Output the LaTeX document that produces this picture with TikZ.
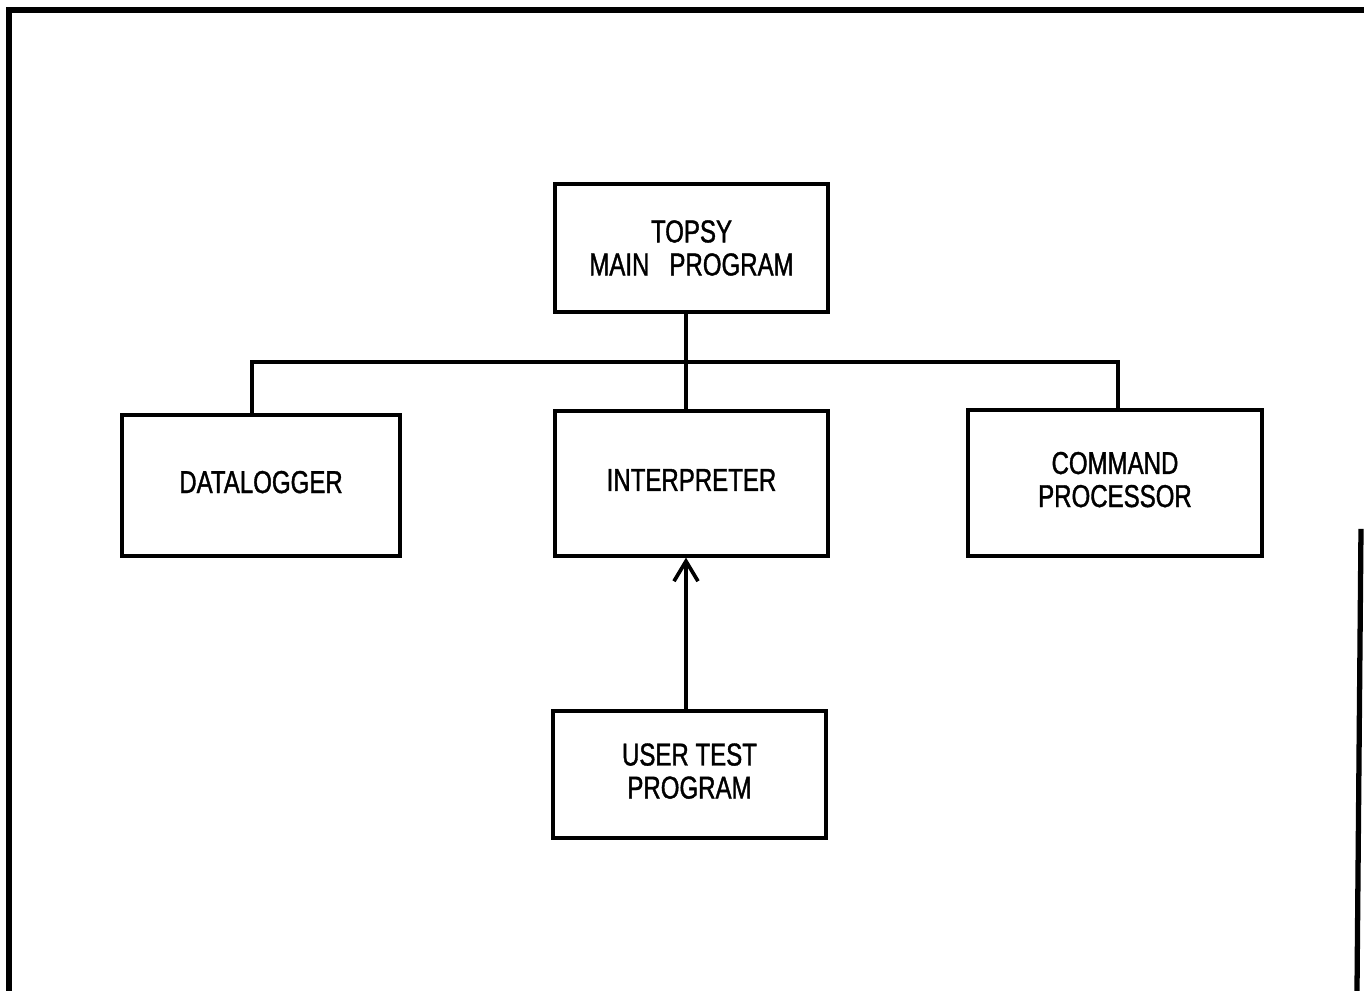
\documentclass[tikz,border=0pt]{standalone}
\usepackage{fontspec}
\setmainfont[FakeStretch=0.76,FakeBold=1.2]{Liberation Sans}
\usetikzlibrary{arrows.meta}
\begin{document}
\begin{tikzpicture}[
  box/.style={draw, line width=0.95pt, inner sep=0pt, align=center,
    font=\fontsize{9}{9.4}\selectfont},
  conn/.style={line width=1.05pt},
  frame/.style={line width=1.5pt}
]
\useasboundingbox (0,0) rectangle (13.64,9.91);
% outer frame
\coordinate (fBL) at (0.09,0);
\coordinate (fTL) at (0.09,9.81);
\coordinate (fTR) at (13.64,9.81);
\coordinate (fRT) at (13.61,4.62);
\coordinate (fRB) at (13.57,0);
\draw[frame] (fBL) -- (fTL) -- (fTR);
\draw[frame] (fRT) -- (fRB);
% boxes
\node[box, minimum width=2.73cm, minimum height=1.28cm] (topsy) at (6.915,7.43) {TOPSY\\MAIN\ \ \ PROGRAM};
\node[box, minimum width=2.78cm, minimum height=1.41cm] (dl) at (2.61,5.055) {DATALOGGER\rule[-2pt]{0pt}{0pt}};
\node[box, minimum width=2.73cm, minimum height=1.45cm] (interp) at (6.915,5.075) {INTERPRETER\rule[-2pt]{0pt}{0pt}};
\node[box, minimum width=2.94cm, minimum height=1.46cm] (cp) at (11.15,5.08) {COMMAND\\PROCESSOR\rule[-2pt]{0pt}{0pt}};
\node[box, minimum width=2.73cm, minimum height=1.27cm] (user) at (6.895,2.165) {USER TEST\\PROGRAM\rule[-2pt]{0pt}{0pt}};
% connectors
\coordinate (busM) at (6.86,6.29);
\coordinate (busL) at (2.52,6.29);
\coordinate (busR) at (11.18,6.29);
\draw[conn] (topsy.south -| busM) -- (interp.north -| busM);
\draw[conn] (busL |- dl.north) -- (busL) -- (busR) -- (busR |- cp.north);
\draw[conn, -{Straight Barb[length=0.2cm, width=0.24cm, line width=1.05pt]}] (user.north -| busM) -- (interp.south -| busM);
\end{tikzpicture}
\end{document}
